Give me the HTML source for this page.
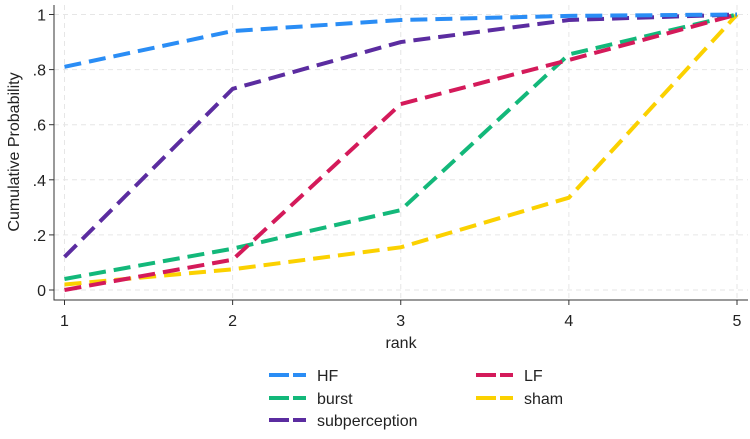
<!DOCTYPE html>
<html><head><meta charset="utf-8"><style>
body{margin:0;background:#fff;font-family:"Liberation Sans",Arial,sans-serif}
</style></head><body>
<svg id="c" width="750" height="434" viewBox="0 0 750 434" xmlns="http://www.w3.org/2000/svg"></svg>
<script>
const ranks=[1,2,3,4,5];
const yTicks=[0,0.2,0.4,0.6,0.8,1];
const yTickLabels=["0",".2",".4",".6",".8","1"];
const seriesNames=["HF","LF","burst","sham","subperception"];
const hf=[0.81,0.94,0.98,0.995,1];
const lf=[0.0,0.11,0.675,0.835,1];
const burst=[0.04,0.15,0.29,0.855,1];
const sham=[0.02,0.075,0.155,0.335,1];
const subperception=[0.12,0.73,0.90,0.98,1];
const colors={HF:"#2a8df5",LF:"#d41a5a",burst:"#13b87a",sham:"#fbd100",subperception:"#5b2ca0"};
const NS="http://www.w3.org/2000/svg";
const svg=document.getElementById('c');
const X=r=>64.5+(r-1)*(737-64.5)/4;
const Y=v=>290-v*(290-14.5);
function mk(t,a,p){const e=document.createElementNS(NS,t);for(const k in a)e.setAttribute(k,a[k]);(p||svg).appendChild(e);return e;}
yTicks.forEach((v,i)=>{
 const g=mk('line',{x1:54,x2:748,y1:Y(v),y2:Y(v),stroke:"#e6e6e6","stroke-width":1,"stroke-dasharray":"5 4"});
 
 
 const tk=mk('line',{x1:49,x2:54,y1:Y(v),y2:Y(v),stroke:"#333"});
 
 
 const t=mk('text',{x:46,y:Y(v)+6,"text-anchor":"end","font-size":16,fill:"#222"});
 t.textContent=yTickLabels[i];
 
 
});
ranks.forEach(r=>{
 const g=mk('line',{x1:X(r),x2:X(r),y1:5,y2:300,stroke:"#e6e6e6","stroke-width":1,"stroke-dasharray":"5 4"});
 
 
 const tk=mk('line',{x1:X(r),x2:X(r),y1:300,y2:305,stroke:"#333"});
 
 
 const t=mk('text',{x:X(r),y:326,"text-anchor":"middle","font-size":16,fill:"#222"});
 t.textContent=r;
 
 
});
const ax=mk('path',{d:"M54 5 V300 H748",fill:"none",stroke:"#333","stroke-width":1});


const yt=mk('text',{x:19,y:152,"text-anchor":"middle","font-size":16,fill:"#222",transform:"rotate(-90 19 152)"});
yt.textContent="Cumulative Probability";


const xt=mk('text',{x:401,y:348,"text-anchor":"middle","font-size":16,fill:"#222"});
xt.textContent="rank";


const data={HF:hf,LF:lf,burst:burst,sham:sham,subperception:subperception};
["sham","burst","LF","subperception","HF"].forEach(n=>{
 const d=data[n].map((v,i)=>(i?"L":"M")+X(ranks[i])+" "+Y(v)).join(" ");
 const p=mk('path',{d:d,fill:"none",stroke:colors[n],"stroke-width":4,"stroke-dasharray":"17 8"});
 
 
});
const legPos={HF:[269,375],LF:[476,375],burst:[269,398],sham:[476,398],subperception:[269,420]};
seriesNames.forEach(n=>{
 const [x,y]=legPos[n];
 const g=mk('g',{});
 
 
 mk('line',{x1:x,x2:x+37,y1:y,y2:y,stroke:colors[n],"stroke-width":4,"stroke-dasharray":"20 4"},g);
 const t=mk('text',{x:x+48,y:y+6,"font-size":16,fill:"#222"},g);
 t.textContent=n;
});
</script>
</body></html>
